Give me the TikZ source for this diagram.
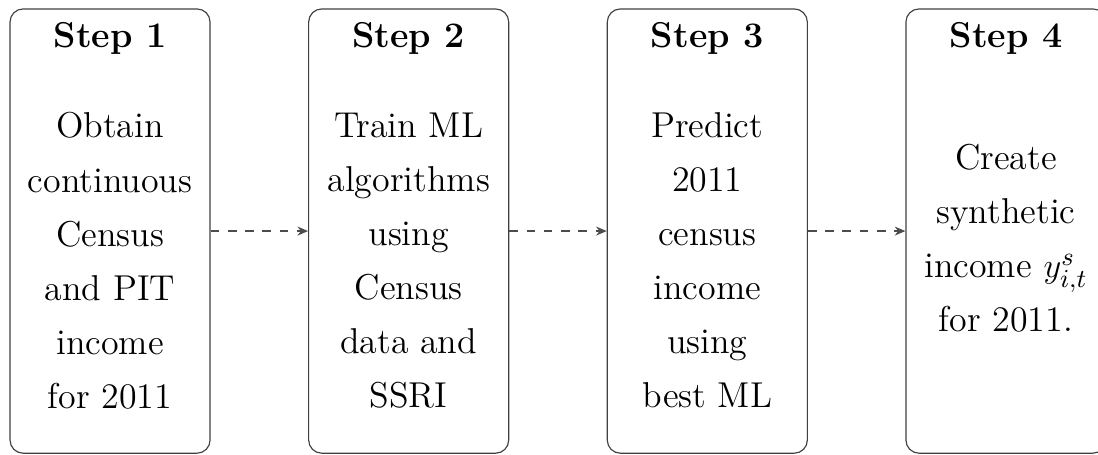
\documentclass[tikz,border=0pt]{standalone}
\usepackage{amsmath}
\usepackage{tikz}
\usetikzlibrary{positioning,arrows.meta}

\begin{document}
\begin{tikzpicture}[
    stepbox/.style={draw, black!75, rounded corners=1.6mm, minimum width=24.45mm,
                    minimum height=54.3mm, inner sep=0pt},
    ttl/.style={font=\fontsize{12.5}{18.8}\selectfont\bfseries, anchor=base,
                inner sep=0pt},
    body/.style={font=\fontsize{12.5}{18.8}\selectfont, align=center, anchor=north,
                 inner sep=0pt},
    flow/.style={->, >={Stealth[length=1.3mm, width=1.1mm]}, black!70, dashed},
  ]
  \useasboundingbox (0,0) rectangle (134.2mm,-55.6mm);

  % ============================== Boxes ===================================
  \node[stepbox] (s1) at (13.45mm,-28.24mm) {};
  \node[stepbox] (s2) at (49.95mm,-28.24mm) {};
  \node[stepbox] (s3) at (86.45mm,-28.24mm) {};
  \node[stepbox] (s4) at (122.95mm,-28.24mm) {};

  % ============================== Titles ==================================
  \foreach \n/\k in {s1/1, s2/2, s3/3, s4/4} {
    \node[ttl] (t\k) at (\n.center |- 0,-5.75mm) {Step \k};
  }

  % ============================== Texts ===================================
  \node[body] (b1) at (13.45mm,-13.7mm)
    {Obtain\\continuous\\Census\\and PIT\\income\\for 2011};
  \node[body] (b2) at (49.95mm,-13.7mm)
    {Train ML\\algorithms\\using\\Census\\data and\\SSRI};
  \node[body] (b3) at (86.45mm,-13.7mm)
    {Predict\\2011\\census\\income\\using\\best ML};
  \node[body] (b4) at (122.95mm,-17.55mm)
    {Create\\synthetic\\income $y^s_{i,t}$\\for 2011.};

  % ============================== Arrows ==================================
  \foreach \a/\b in {s1/s2, s2/s3, s3/s4} {
    \draw[flow] (\a.east) -- (\b.west);
  }
\end{tikzpicture}
\end{document}
